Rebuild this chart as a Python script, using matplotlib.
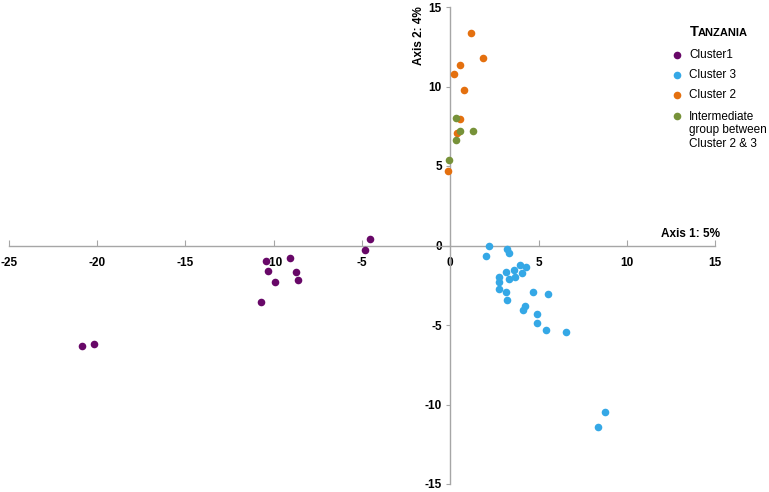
import matplotlib
matplotlib.use("Agg")
import matplotlib.pyplot as plt

plt.rcParams['font.family'] = ['Liberation Sans', 'DejaVu Sans']
plt.rcParams['axes.unicode_minus'] = False

cluster1_x = [-4.52, -4.83, -9.10, -10.44, -10.31, -8.74, -8.63, -9.93, -10.71, -20.19, -20.87]
cluster1_y = [0.40, -0.30, -0.78, -0.99, -1.58, -1.68, -2.14, -2.29, -3.54, -6.17, -6.29]

cluster3_x = [2.17, 2.04, 3.23, 3.32, 3.98, 4.27, 3.60, 3.17, 4.08, 2.78, 3.68, 3.32, 2.79, 2.78,
              3.17, 4.68, 5.51, 3.23, 4.25, 4.14, 4.91, 4.93, 5.42, 6.53, 8.74, 8.39]
cluster3_y = [-0.04, -0.64, -0.25, -0.46, -1.24, -1.38, -1.55, -1.65, -1.71, -2.01, -1.97, -2.12,
              -2.32, -2.76, -2.94, -2.90, -3.05, -3.45, -3.81, -4.08, -4.33, -4.87, -5.33, -5.44,
              -10.49, -11.41]

cluster2_x = [1.19, 1.87, 0.58, 0.19, 0.78, 0.55, 0.41, -0.15]
cluster2_y = [13.39, 11.80, 11.34, 10.77, 9.81, 7.97, 7.06, 4.69]

inter_x = [0.32, 0.55, 1.30, 0.32, -0.09]
inter_y = [8.00, 7.21, 7.19, 6.62, 5.39]

labels = ["Cluster1", "Cluster 3", "Cluster 2", "Intermediate\ngroup between\nCluster 2 & 3"]
colors = ["#680868", "#35A8E6", "#E4700F", "#779239"]
xticks = [-25, -20, -15, -10, -5, 0, 5, 10, 15]
yticks = [-15, -10, -5, 0, 5, 10, 15]

W, H = 769, 492
fig = plt.figure(figsize=(W/100, H/100), dpi=100)
ax = fig.add_axes([9/W, 8/H, (715-9)/W, (484-7)/H])

series = [(cluster1_x, cluster1_y), (cluster3_x, cluster3_y), (cluster2_x, cluster2_y), (inter_x, inter_y)]
for (xs, ys), c in zip(series, colors):
    ax.scatter(xs, ys, s=30, color=c, linewidths=0, zorder=3)

ax.set_xlim(-25, 15)
ax.set_ylim(-15, 15)
ax.set_xticks(xticks)
ax.set_yticks(yticks)
ax.spines['left'].set_position(('data', 0))
ax.spines['bottom'].set_position(('data', 0))
ax.spines['top'].set_visible(False)
ax.spines['right'].set_visible(False)
for s in ['left', 'bottom']:
    ax.spines[s].set_color('#A6A6A6')
    ax.spines[s].set_linewidth(1.0)
ax.tick_params(axis='x', direction='in', length=4, color='#A6A6A6', pad=8, labelsize=8.5)
ax.tick_params(axis='y', direction='out', length=3, color='#A6A6A6', pad=3, labelsize=8.5)
for lab in ax.get_xticklabels() + ax.get_yticklabels():
    lab.set_fontweight('bold')

fig.text(419/W, 1 - 36/H, "Axis 2: 4%", rotation=90, ha='center', va='center',
         fontsize=8.5, fontweight='bold')
fig.text(720/W, 1 - 234/H, "Axis 1: 5%", ha='right', va='center',
         fontsize=8.5, fontweight='bold')

# legend (manual, marker aligned with first line of each label)
leg_y = [55, 75, 95, 116]
for lab, c, yy in zip(labels, colors, leg_y):
    fig.lines.append(plt.Line2D([677/W], [1 - yy/H], transform=fig.transFigure, marker='o',
                                linestyle='', markersize=5.5, markerfacecolor=c,
                                markeredgewidth=0))
    fig.text(689/W, 1 - (yy - 5.5)/H, lab, fontsize=8.5, ha='left', va='top', linespacing=1.22)

fig.text(690/W, 1 - 36/H, "T", fontsize=10.5, fontweight='bold', ha='left', va='baseline')
fig.text(698/W, 1 - 36/H, "ANZANIA", fontsize=8, fontweight='bold', ha='left', va='baseline')

fig.savefig("out.png", dpi=100)
